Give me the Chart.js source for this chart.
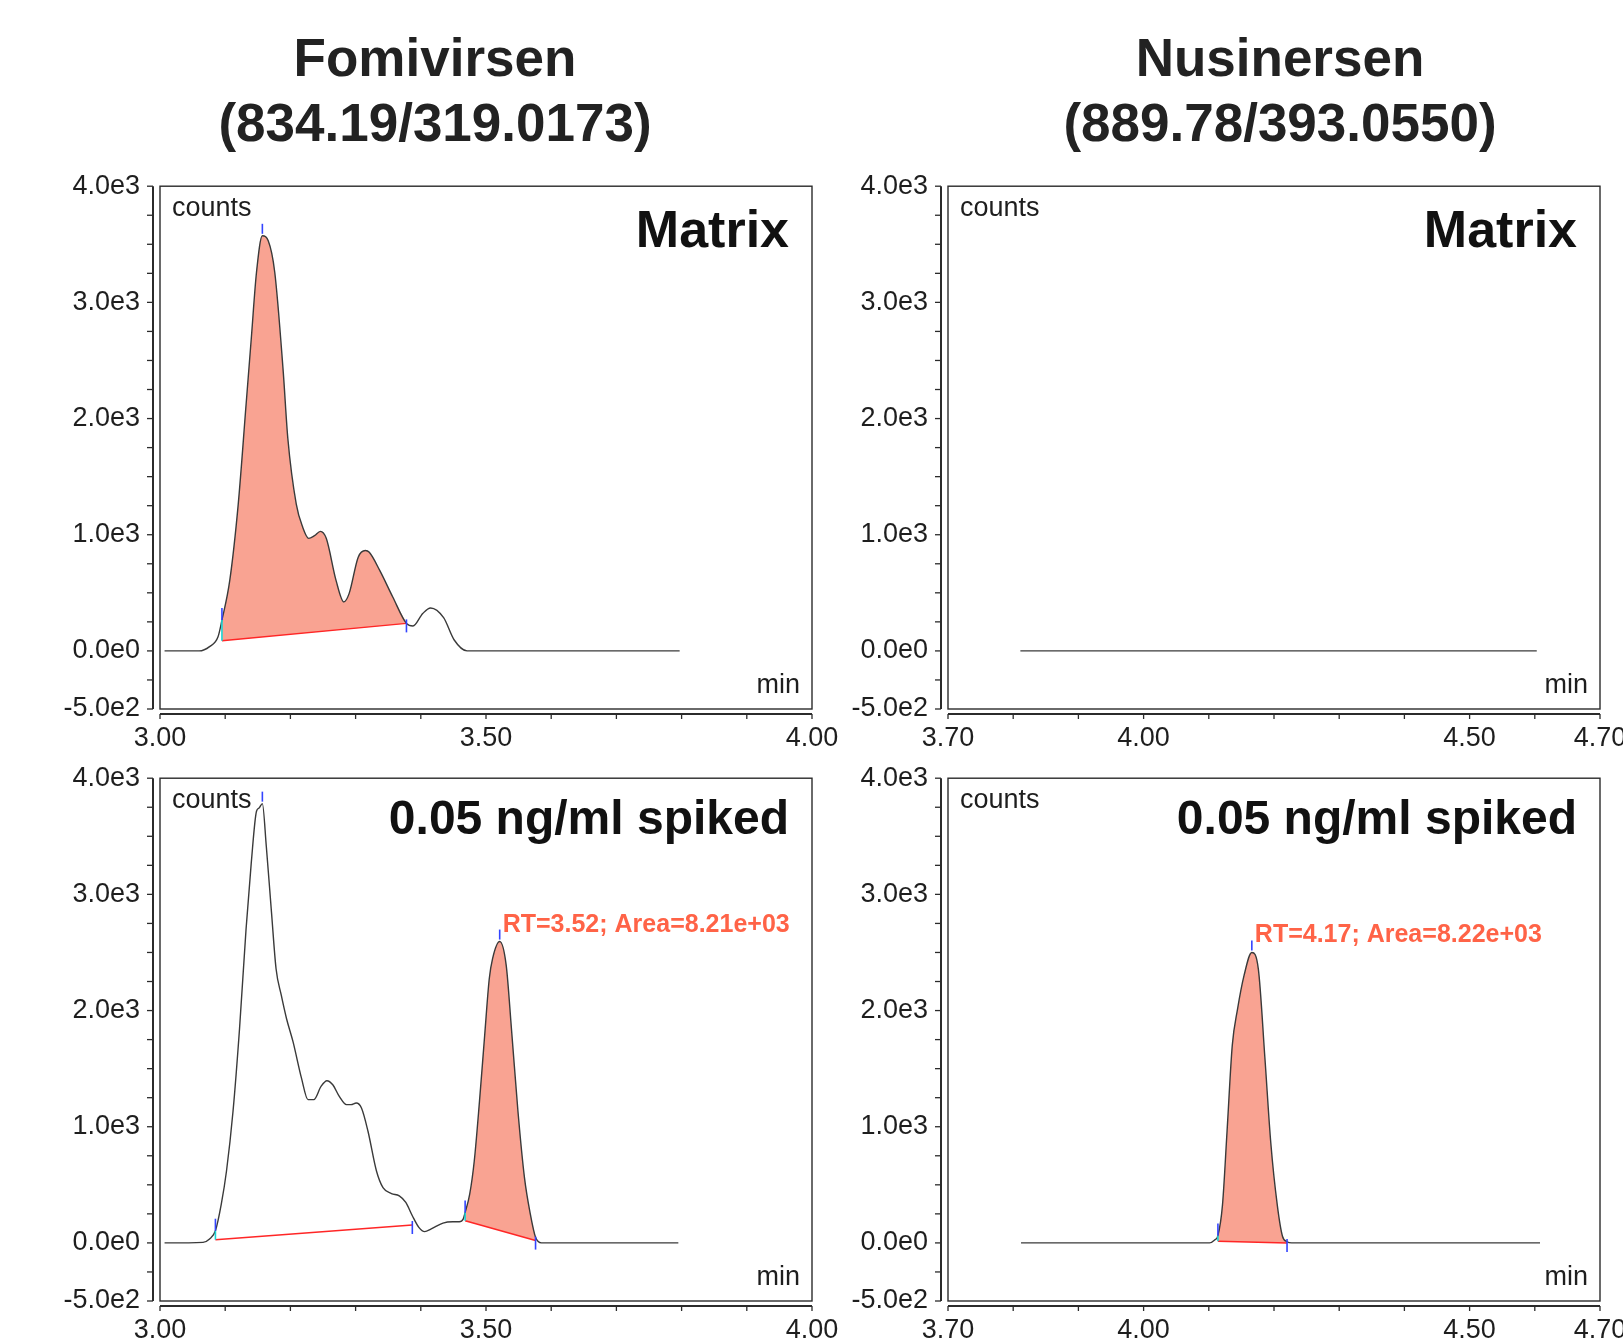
<!DOCTYPE html>
<html>
<head>
<meta charset="utf-8">
<title>Fomivirsen / Nusinersen chromatograms</title>
<script src="https://cdn.jsdelivr.net/npm/chart.js@4.4.1/dist/chart.umd.min.js"></script>
<style>
  html, body { margin: 0; padding: 0; background: #fff; }
  body { width: 1623px; height: 1341px; position: relative; overflow: hidden; }
  .title {
    position: absolute; width: 700px; text-align: center;
    font: bold 53px 'Liberation Sans', Arial, sans-serif;
    line-height: 64.5px; color: #222;
  }
  canvas { position: absolute; }
</style>
</head>
<body>

<div class="title" style="left:85px;top:26px">Fomivirsen<br>(834.19/319.0173)</div>
<div class="title" style="left:930px;top:26px">Nusinersen<br>(889.78/393.0550)</div>

<canvas id="c-fomi-matrix" width="862" height="616" style="left:0px;top:163px"></canvas>
<canvas id="c-nusi-matrix" width="862" height="616" style="left:788px;top:163px"></canvas>
<canvas id="c-fomi-spiked" width="862" height="616" style="left:0px;top:755px"></canvas>
<canvas id="c-nusi-spiked" width="862" height="616" style="left:788px;top:755px"></canvas>

<script>
// ── AXES ───────────────────────────────────────────────────────────────────

const yTickValues = [-500, -250, 0, 250, 500, 750, 1000, 1250, 1500, 1750, 2000,
                     2250, 2500, 2750, 3000, 3250, 3500, 3750, 4000];
const yTickLabels = { '-500': '-5.0e2', '0': '0.0e0', '1000': '1.0e3',
                      '2000': '2.0e3', '3000': '3.0e3', '4000': '4.0e3' };

const fomiTickValues = [3.0, 3.1, 3.2, 3.3, 3.4, 3.5, 3.6, 3.7, 3.8, 3.9, 4.0];
const fomiTickLabels = { '3.00': '3.00', '3.50': '3.50', '4.00': '4.00' };

const nusiTickValues = [3.7, 3.8, 3.9, 4.0, 4.1, 4.2, 4.3, 4.4, 4.5, 4.6, 4.7];
const nusiTickLabels = { '3.70': '3.70', '4.00': '4.00', '4.50': '4.50', '4.70': '4.70' };

// ── TRACES (min, counts) ───────────────────────────────────────────────────

const fomiMatrixTime = [3.007, 3.060, 3.076, 3.089, 3.095, 3.107, 3.120, 3.132, 3.140, 3.148,
                        3.157, 3.166, 3.176, 3.189, 3.196, 3.209, 3.219, 3.228, 3.237, 3.246,
                        3.255, 3.270, 3.282, 3.290, 3.304, 3.315, 3.321, 3.337, 3.357, 3.378,
                        3.388, 3.403, 3.415, 3.435, 3.451, 3.471, 3.797];
const fomiMatrixCounts = [0, 0, 37, 122, 265, 607, 1264, 2119, 2689, 3259,
                          3573, 3530, 3259, 2404, 1833, 1264, 1063, 969, 992, 1029,
                          969, 607, 422, 493, 807, 864, 849, 693, 464, 237,
                          214, 322, 370, 286, 96, 0, 0];

const fomiSpikedTime = [3.007, 3.066, 3.076, 3.085, 3.094, 3.102, 3.112, 3.122, 3.132, 3.140,
                        3.148, 3.152, 3.157, 3.163, 3.171, 3.178, 3.186, 3.194, 3.204, 3.217,
                        3.227, 3.236, 3.247, 3.256, 3.265, 3.275, 3.286, 3.293, 3.301, 3.309,
                        3.319, 3.332, 3.342, 3.355, 3.367, 3.377, 3.387, 3.397, 3.406, 3.416,
                        3.434, 3.449, 3.459, 3.465, 3.468, 3.475, 3.482, 3.490, 3.498, 3.505,
                        3.510, 3.521, 3.531, 3.539, 3.549, 3.559, 3.568, 3.576, 3.585, 3.795];
const fomiSpikedCounts = [0, 5, 34, 105, 334, 619, 1133, 1846, 2702, 3273,
                          3716, 3744, 3781, 3416, 2845, 2360, 2132, 1932, 1732, 1418,
                          1233, 1233, 1347, 1396, 1361, 1261, 1190, 1190, 1204, 1161,
                          961, 619, 476, 425, 405, 348, 234, 134, 97, 120,
                          171, 182, 182, 205, 262, 419, 705, 1218, 1789, 2274,
                          2445, 2594, 2389, 1846, 1133, 562, 248, 48, 0, 0];

const nusiMatrixTime   = [3.811, 4.603];
const nusiMatrixCounts = [0, 0];

const nusiSpikedTime = [3.812, 4.101, 4.109, 4.114, 4.121, 4.128, 4.136, 4.144, 4.154, 4.166,
                        4.176, 4.186, 4.195, 4.205, 4.213, 4.220, 4.227, 4.608];
const nusiSpikedCounts = [0, 0, 25, 63, 327, 961, 1700, 2010, 2300, 2500,
                          2357, 1596, 866, 327, 57, 10, 0, 0];

// ── INTEGRATION (window start/end in min, baseline counts at each end) ─────

const fomiMatrixWindows  = [[3.095, 3.378]];
const fomiMatrixBaseline = [[88, 237]];
const fomiMatrixApex     = [3.157];
const fomiMatrixShaded   = [0];

const fomiSpikedWindows  = [[3.085, 3.387], [3.468, 3.576]];
const fomiSpikedBaseline = [[28, 154], [191, 20]];
const fomiSpikedApex     = [3.157, 3.521];
const fomiSpikedShaded   = [1];

const nusiSpikedWindows  = [[4.114, 4.220]];
const nusiSpikedBaseline = [[15, 0]];
const nusiSpikedApex     = [4.166];
const nusiSpikedShaded   = [0];

const fomiSpikedNote = 'RT=3.52; Area=8.21e+03';
const nusiSpikedNote = 'RT=4.17; Area=8.22e+03';

// ── STYLE ──────────────────────────────────────────────────────────────────

const COLORS = {
  trace:    '#3a3a3a',
  frame:    '#2b2b2b',
  fill:     '#f9a392',
  baseline: '#ff2626',
  tick:     '#3344ff',
  cyan:     '#19d6d6',
  note:     '#ff6347',
  text:     '#1e1e1e',
};
const FONT = "'Liberation Sans', Arial, sans-serif";

Chart.defaults.font.family = FONT;
Chart.defaults.color = COLORS.text;

// ── DECORATION PLUGIN: frame, detached axes, peak markers, labels ──────────

const decorPlugin = {
  id: 'decor',
  afterDatasetsDraw(chart, args, opts) {
    const ctx = chart.ctx;
    const xs = chart.scales.x, ys = chart.scales.y;
    const time = opts.time, counts = opts.counts;
    const countAt = t => counts[time.indexOf(t)];
    ctx.save();
    ctx.lineWidth = 1.6;
    (opts.windows || []).forEach((w, i) => {
      const [b0, b1] = opts.baseline[i];
      const x0 = xs.getPixelForValue(w[0]), x1 = xs.getPixelForValue(w[1]);
      const yc0 = ys.getPixelForValue(countAt(w[0]));
      const yb0 = ys.getPixelForValue(b0), yb1 = ys.getPixelForValue(b1);
      ctx.strokeStyle = COLORS.cyan;
      ctx.beginPath(); ctx.moveTo(x0, yb0); ctx.lineTo(x0, yc0); ctx.stroke();
      ctx.strokeStyle = COLORS.tick;
      ctx.beginPath(); ctx.moveTo(x0, yc0); ctx.lineTo(x0, yc0 - 12); ctx.stroke();
      ctx.beginPath(); ctx.moveTo(x1, yb1 - 4); ctx.lineTo(x1, yb1 + 9); ctx.stroke();
    });
    (opts.apex || []).forEach(t => {
      const x = xs.getPixelForValue(t), y = ys.getPixelForValue(countAt(t));
      ctx.strokeStyle = COLORS.tick;
      ctx.beginPath(); ctx.moveTo(x, y - 2); ctx.lineTo(x, y - 12); ctx.stroke();
    });
    ctx.restore();
  },
  afterDraw(chart, args, opts) {
    const ctx = chart.ctx, ca = chart.chartArea;
    const xs = chart.scales.x, ys = chart.scales.y;
    ctx.save();

    // plot frame
    ctx.strokeStyle = COLORS.frame;
    ctx.lineWidth = 1.4;
    ctx.strokeRect(ca.left, ca.top, ca.right - ca.left, ca.bottom - ca.top);

    // detached y axis
    const ax = ca.left - 7;
    ctx.lineWidth = 2;
    ctx.beginPath(); ctx.moveTo(ax, ca.top); ctx.lineTo(ax, ca.bottom); ctx.stroke();
    ctx.lineWidth = 1.3;
    ys.ticks.forEach(t => {
      const p = ys.getPixelForValue(t.value);
      ctx.beginPath(); ctx.moveTo(ax - 6, p); ctx.lineTo(ax, p); ctx.stroke();
    });

    // detached x axis
    const ay = ca.bottom + 5;
    ctx.lineWidth = 2;
    ctx.beginPath(); ctx.moveTo(ca.left, ay); ctx.lineTo(ca.right, ay); ctx.stroke();
    ctx.lineWidth = 1.3;
    xs.ticks.forEach(t => {
      const p = xs.getPixelForValue(t.value);
      ctx.beginPath(); ctx.moveTo(p, ay); ctx.lineTo(p, ay + 5); ctx.stroke();
    });

    // corner labels
    ctx.fillStyle = COLORS.text;
    ctx.textBaseline = 'alphabetic';
    ctx.font = '27px ' + FONT;
    ctx.textAlign = 'left';
    ctx.fillText('counts', ca.left + 12, ca.top + 30);
    ctx.textAlign = 'right';
    ctx.fillText('min', ca.right - 12, ca.bottom - 16);

    // sample tag
    ctx.font = 'bold ' + opts.tagSize + 'px ' + FONT;
    ctx.fillStyle = '#111';
    ctx.fillText(opts.tag, ca.right - 23, ca.top + opts.tagBase);

    // RT / area annotation on shaded peak
    if (opts.note) {
      const t = opts.apex[opts.apex.length - 1];
      const c = opts.counts[opts.time.indexOf(t)];
      ctx.font = 'bold 25px ' + FONT;
      ctx.fillStyle = COLORS.note;
      ctx.textAlign = 'left';
      ctx.fillText(opts.note, xs.getPixelForValue(t) + 3, ys.getPixelForValue(c) - 10);
    }
    ctx.restore();
  },
};

// ── PANEL BUILDER ──────────────────────────────────────────────────────────

function buildPanel(id, p) {
  const pts = p.time.map((t, i) => ({ x: t, y: p.counts[i] }));
  const datasets = [{
    label: 'trace',
    data: pts,
    borderColor: COLORS.trace,
    borderWidth: 1.4,
    pointRadius: 0,
    cubicInterpolationMode: 'monotone',
    fill: false,
    order: 0,
  }];

  const windows = p.windows || [];
  windows.forEach((w, i) => {
    datasets.push({
      label: 'baseline ' + i,
      data: [{ x: w[0], y: p.baseline[i][0] }, { x: w[1], y: p.baseline[i][1] }],
      borderColor: COLORS.baseline,
      borderWidth: 1.5,
      pointRadius: 0,
      fill: false,
      order: 1,
    });
  });
  (p.shaded || []).forEach(i => {
    const w = windows[i];
    datasets.push({
      label: 'area ' + i,
      data: pts.filter(d => d.x >= w[0] && d.x <= w[1]),
      borderColor: 'rgba(0,0,0,0)',
      borderWidth: 0,
      pointRadius: 0,
      cubicInterpolationMode: 'monotone',
      backgroundColor: COLORS.fill,
      fill: { target: 1 + i },
      order: 2,
    });
  });

  return new Chart(document.getElementById(id), {
    type: 'line',
    data: { datasets },
    plugins: [decorPlugin],
    options: {
      responsive: false,
      animation: false,
      events: [],
      layout: { padding: { left: 0, top: 20, right: 50, bottom: 0 } },
      plugins: {
        legend: { display: false },
        tooltip: { enabled: false },
        decor: {
          time: p.time, counts: p.counts,
          windows, baseline: p.baseline, apex: p.apex,
          tag: p.tag, tagSize: p.tagSize, tagBase: p.tagBase, note: p.note,
        },
      },
      scales: {
        x: {
          type: 'linear',
          min: p.xTicks[0],
          max: p.xTicks[p.xTicks.length - 1],
          afterBuildTicks: s => { s.ticks = p.xTicks.map(v => ({ value: v })); },
          afterFit: s => { s.height = 70; },
          grid: { display: false, drawTicks: true, tickLength: 13 },
          border: { display: false },
          ticks: {
            autoSkip: false, maxRotation: 0, padding: 0,
            font: { size: 27 }, color: COLORS.text,
            callback: v => p.xLabels[v.toFixed(2)] || '',
          },
        },
        y: {
          type: 'linear',
          min: -500,
          max: 4000,
          afterBuildTicks: s => { s.ticks = yTickValues.map(v => ({ value: v })); },
          afterFit: s => { s.width = 160; },
          grid: { display: false, drawTicks: true, tickLength: 13 },
          border: { display: false },
          ticks: {
            autoSkip: false, padding: 7,
            font: { size: 27 }, color: COLORS.text,
            callback: v => yTickLabels[String(Math.round(v))] || '',
          },
        },
      },
    },
  });
}

buildPanel('c-fomi-matrix', {
  time: fomiMatrixTime, counts: fomiMatrixCounts,
  windows: fomiMatrixWindows, baseline: fomiMatrixBaseline,
  apex: fomiMatrixApex, shaded: fomiMatrixShaded,
  xTicks: fomiTickValues, xLabels: fomiTickLabels,
  tag: 'Matrix', tagSize: 52, tagBase: 61,
});

buildPanel('c-nusi-matrix', {
  time: nusiMatrixTime, counts: nusiMatrixCounts,
  xTicks: nusiTickValues, xLabels: nusiTickLabels,
  tag: 'Matrix', tagSize: 52, tagBase: 61,
});

buildPanel('c-fomi-spiked', {
  time: fomiSpikedTime, counts: fomiSpikedCounts,
  windows: fomiSpikedWindows, baseline: fomiSpikedBaseline,
  apex: fomiSpikedApex, shaded: fomiSpikedShaded,
  xTicks: fomiTickValues, xLabels: fomiTickLabels,
  tag: '0.05 ng/ml spiked', tagSize: 48, tagBase: 56, note: fomiSpikedNote,
});

buildPanel('c-nusi-spiked', {
  time: nusiSpikedTime, counts: nusiSpikedCounts,
  windows: nusiSpikedWindows, baseline: nusiSpikedBaseline,
  apex: nusiSpikedApex, shaded: nusiSpikedShaded,
  xTicks: nusiTickValues, xLabels: nusiTickLabels,
  tag: '0.05 ng/ml spiked', tagSize: 48, tagBase: 56, note: nusiSpikedNote,
});
</script>
</body>
</html>
